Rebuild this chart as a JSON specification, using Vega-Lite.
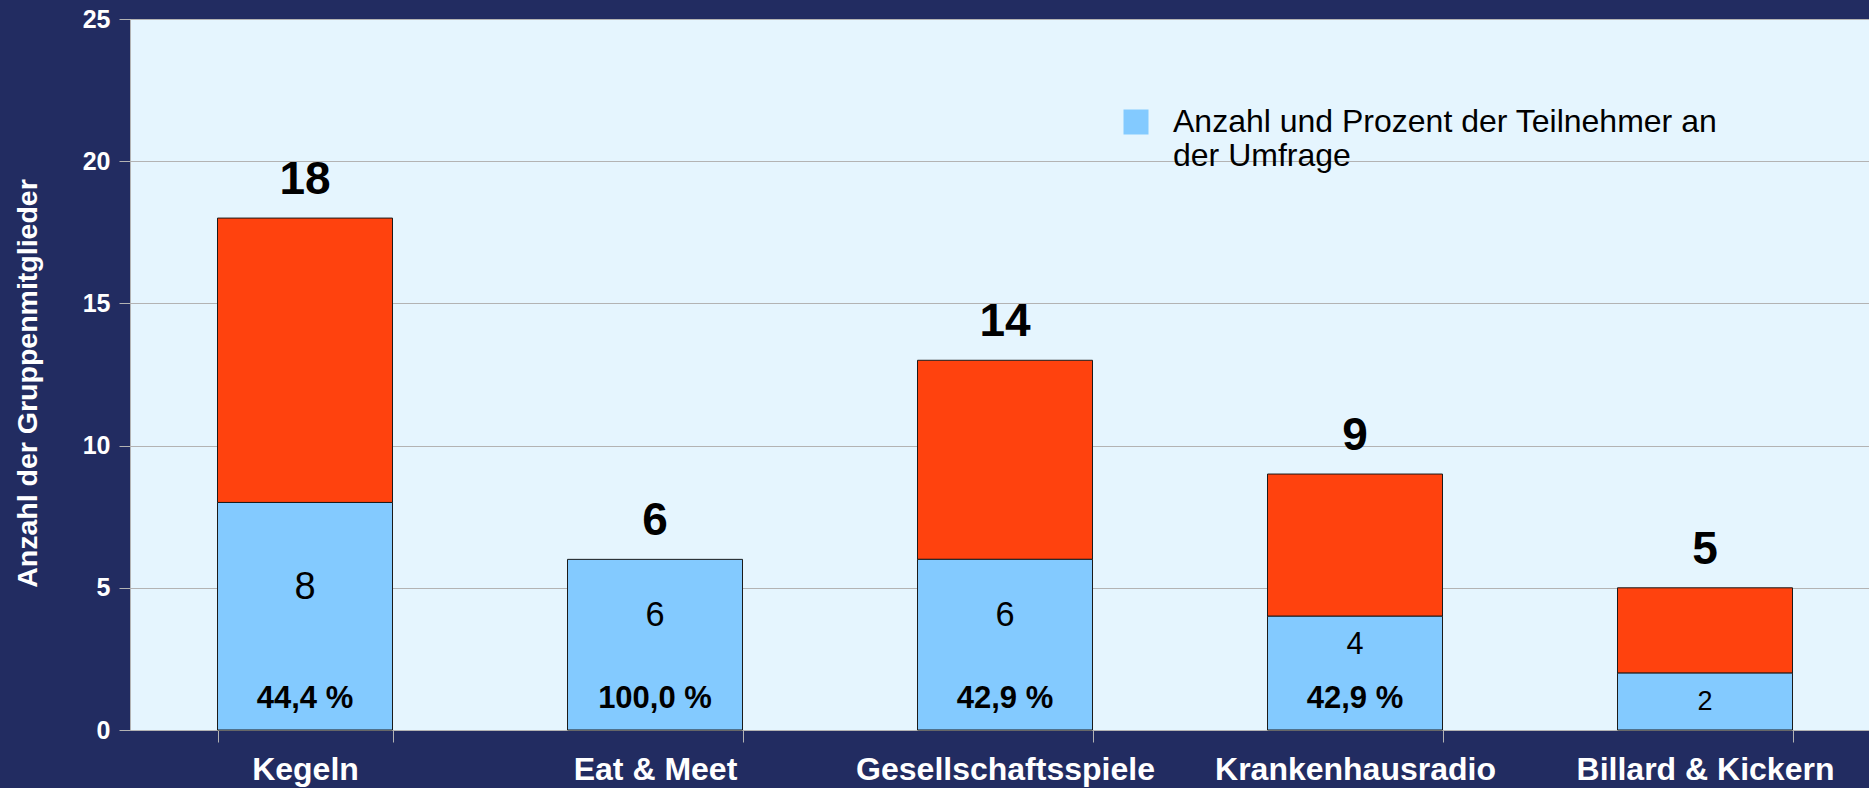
{
  "$schema": "https://vega.github.io/schema/vega-lite/v6.json",
  "width": 1739,
  "height": 711,
  "autosize": {"type": "none"},
  "padding": {"left": 130, "top": 19, "right": 0, "bottom": 58},
  "background": "#222c61",
  "view": {"fill": "#e5f5fe", "stroke": null},
  "config": {
    "font": "Liberation Sans",
    "axisX": {
      "title": null, "labelAngle": 0, "labelColor": "white", "labelFontWeight": "bold",
      "labelFontSize": 32, "labelPadding": 12, "labelBaseline": "top", "labelLimit": 500,
      "domainColor": "#b3b3b3", "tickColor": "#b3b3b3", "tickSize": 12, "tickBand": "extent", "grid": false
    },
    "axisY": {
      "labelColor": "white", "labelFontWeight": "bold", "labelFontSize": 25, "labelPadding": 9,
      "domainColor": "#b3b3b3", "tickColor": "#b3b3b3", "tickSize": 11, "gridColor": "#b3b3b3", "grid": true,
      "titleColor": "white", "titleFontWeight": "bold", "titleFontSize": 28.5, "titleX": -103, "titleY": 364,
      "titleAngle": -90, "titleBaseline": "middle", "titleAlign": "center"
    },
    "legend": {
      "orient": "none", "legendX": 990, "legendY": 87, "title": null, "padding": 0,
      "symbolType": "square", "symbolSize": 625, "symbolStrokeWidth": 0, "symbolOpacity": 1,
      "labelFontSize": 32, "labelFont": "Liberation Sans", "labelColor": "black", "labelOffset": 21, "labelLimit": 0
    }
  },
  "data": {
    "values": [
      {"Gruppe": "Kegeln", "Teilnehmer": 8, "Rest": 10, "Gesamt": 18, "Prozent": "44,4 %"},
      {"Gruppe": "Eat & Meet", "Teilnehmer": 6, "Rest": 0, "Gesamt": 6, "Prozent": "100,0 %"},
      {"Gruppe": "Gesellschaftsspiele", "Teilnehmer": 6, "Rest": 7, "Gesamt": 14, "Prozent": "42,9 %"},
      {"Gruppe": "Krankenhausradio", "Teilnehmer": 4, "Rest": 5, "Gesamt": 9, "Prozent": "42,9 %"},
      {"Gruppe": "Billard & Kickern", "Teilnehmer": 2, "Rest": 3, "Gesamt": 5, "Prozent": null}
    ]
  },
  "transform": [
    {"calculate": "datum.Teilnehmer + datum.Rest", "as": "Oben"},
    {"calculate": "datum.Prozent ? (datum.Teilnehmer + 2) / 2 : datum.Teilnehmer / 2", "as": "Mitte"}
  ],
  "encoding": {
    "x": {
      "field": "Gruppe", "type": "nominal",
      "sort": ["Kegeln", "Eat & Meet", "Gesellschaftsspiele", "Krankenhausradio", "Billard & Kickern"],
      "scale": {"range": [0, 1750], "paddingInner": 0.5, "paddingOuter": 0.25}
    }
  },
  "layer": [
    {
      "transform": [{"filter": "datum.Rest > 0"}],
      "mark": {"type": "bar", "fill": "#ff420e", "stroke": "#1a1a1a", "strokeWidth": 1},
      "encoding": {
        "y": {"field": "Oben", "type": "quantitative", "title": "Anzahl der Gruppenmitglieder",
          "scale": {"domain": [0, 25], "nice": false}, "axis": {"values": [0, 5, 10, 15, 20, 25]}},
        "y2": {"field": "Teilnehmer"}
      }
    },
    {
      "mark": {"type": "bar", "stroke": "#1a1a1a", "strokeWidth": 1, "opacity": 1},
      "encoding": {
        "y": {"field": "Teilnehmer", "type": "quantitative", "title": "Anzahl der Gruppenmitglieder",
          "scale": {"domain": [0, 25], "nice": false}},
        "color": {
          "datum": "Anzahl und Prozent der Teilnehmer an der Umfrage",
          "scale": {"range": ["#83caff"]},
          "legend": {"labelExpr": "['Anzahl und Prozent der Teilnehmer an', 'der Umfrage']"}
        }
      }
    },
    {
      "mark": {"type": "text", "fontSize": 46, "fontWeight": "bold", "color": "black", "baseline": "alphabetic", "dy": -24},
      "encoding": {
        "y": {"field": "Oben", "type": "quantitative", "title": "Anzahl der Gruppenmitglieder",
          "scale": {"domain": [0, 25], "nice": false}},
        "text": {"field": "Gesamt", "type": "quantitative"}
      }
    },
    {
      "mark": {"type": "text", "color": "black", "baseline": "middle"},
      "encoding": {
        "y": {"field": "Mitte", "type": "quantitative", "title": "Anzahl der Gruppenmitglieder",
          "scale": {"domain": [0, 25], "nice": false}},
        "text": {"field": "Teilnehmer", "type": "quantitative"},
        "size": {"field": "Teilnehmer", "type": "quantitative", "scale": {"domain": [2, 8], "range": [27, 38]}, "legend": null}
      }
    },
    {
      "transform": [{"filter": "datum.Prozent != null"}],
      "mark": {"type": "text", "fontSize": 31, "fontWeight": "bold", "color": "black", "baseline": "middle"},
      "encoding": {
        "y": {"datum": 1.1, "type": "quantitative", "scale": {"domain": [0, 25], "nice": false}},
        "text": {"field": "Prozent", "type": "nominal"}
      }
    }
  ]
}
